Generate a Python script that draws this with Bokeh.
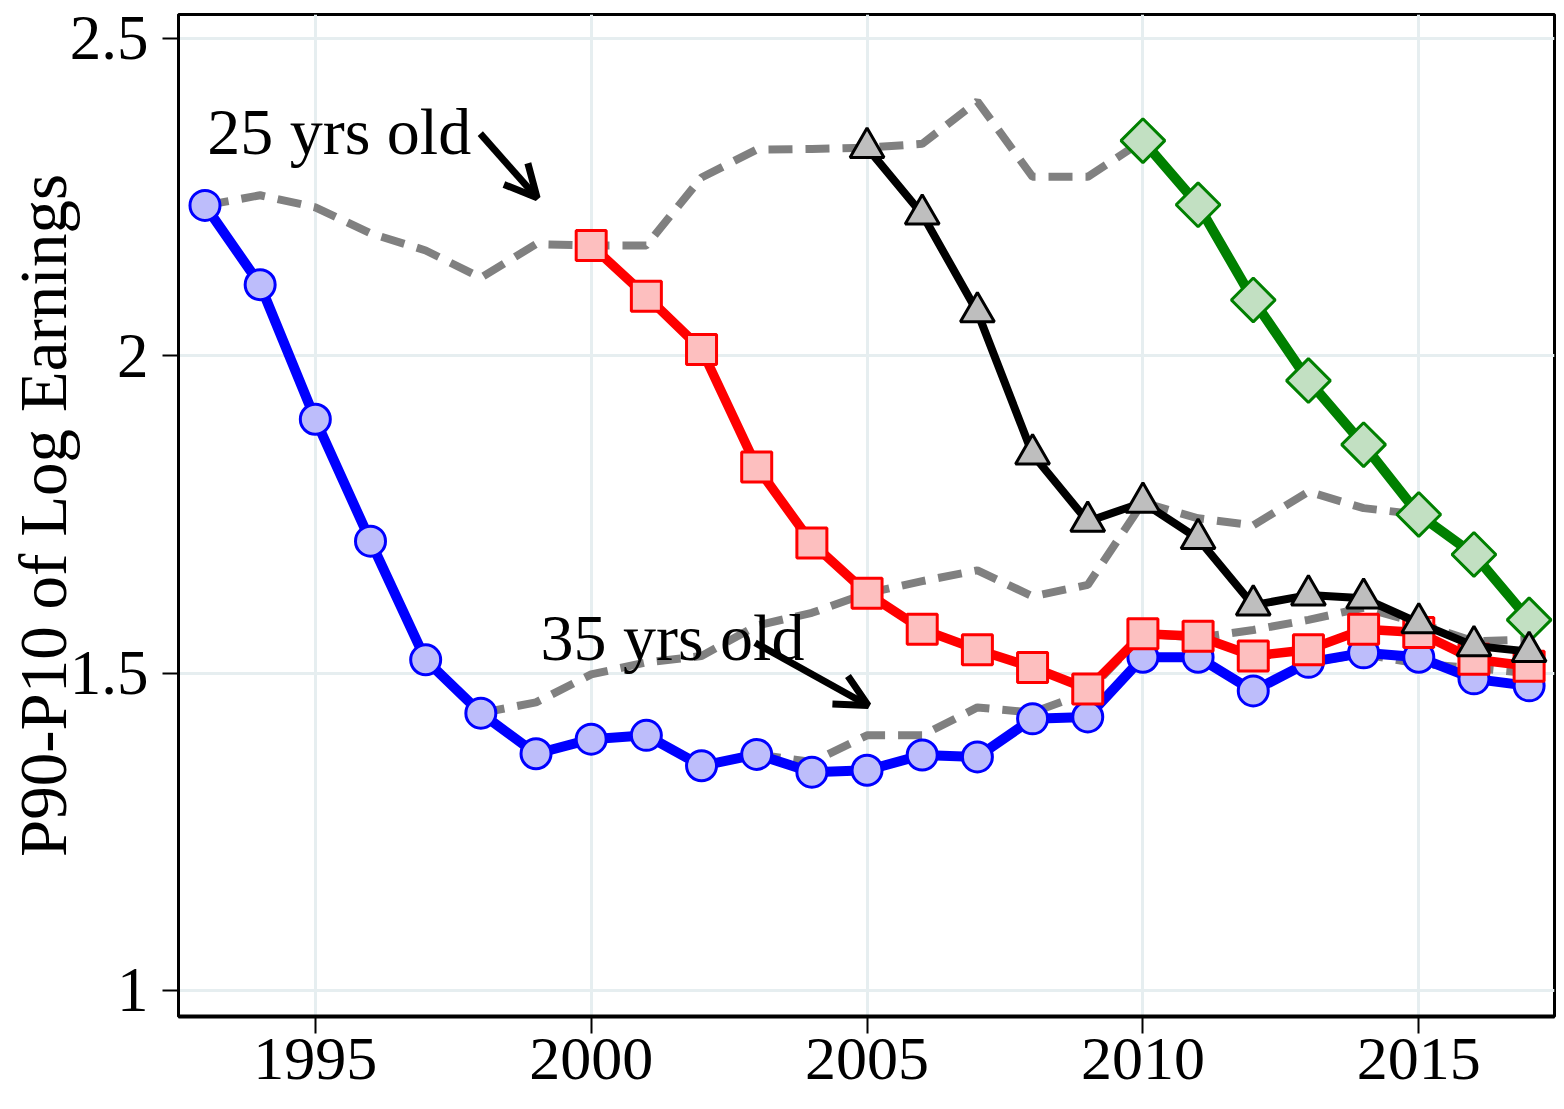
import numpy as np
from bokeh.plotting import figure
from bokeh.models import Range1d, FixedTicker, Label, Arrow, OpenHead, CustomJSTickFormatter
from bokeh.embed import file_html
from bokeh.resources import INLINE

# ---------------- data ----------------
years_blue = list(range(1993, 2018))
blue = [2.237, 2.112, 1.900, 1.708, 1.521, 1.437, 1.373, 1.396, 1.402, 1.354, 1.372,
        1.344, 1.347, 1.371, 1.368, 1.428, 1.431, 1.525, 1.525, 1.472, 1.517, 1.532,
        1.525, 1.491, 1.480]

years_red = list(range(2000, 2018))
red = [2.174, 2.094, 2.010, 1.825, 1.705, 1.626, 1.569, 1.537, 1.509, 1.475, 1.562,
       1.558, 1.527, 1.537, 1.569, 1.564, 1.522, 1.511]

years_black = list(range(2005, 2018))
black = [2.328, 2.223, 2.069, 1.845, 1.739, 1.769, 1.712, 1.607, 1.623, 1.618, 1.579,
         1.543, 1.534]

years_green = list(range(2010, 2018))
green = [2.339, 2.238, 2.088, 1.961, 1.860, 1.750, 1.687, 1.584]

years_age25 = list(range(1993, 2011))
age25 = [2.237, 2.253, 2.234, 2.193, 2.166, 2.123, 2.176, 2.174, 2.174, 2.281, 2.325,
         2.326, 2.328, 2.334, 2.401, 2.282, 2.282, 2.339]

years_age30 = list(range(1998, 2016))
age30 = [1.437, 1.454, 1.498, 1.517, 1.527, 1.575, 1.595, 1.626, 1.645, 1.662, 1.621,
         1.639, 1.769, 1.744, 1.733, 1.786, 1.760, 1.750]

years_age35 = list(range(2003, 2018))
age35 = [1.372, 1.360, 1.402, 1.402, 1.446, 1.438, 1.470, 1.562, 1.556, 1.568, 1.584,
         1.603, 1.579, 1.550, 1.553]

years_age40 = list(range(2008, 2018))
age40 = [1.428, 1.431, 1.525, 1.525, 1.472, 1.517, 1.530, 1.515, 1.508, 1.500]

x_ticks = [1995, 2000, 2005, 2010, 2015]
y_ticks = [1, 1.5, 2, 2.5]
y_title = "P90-P10 of Log Earnings"

SERIF = "Liberation Serif"

p = figure(width=1556, height=1093, output_backend="svg", toolbar_location=None,
           x_range=Range1d(1992.52, 2017.46), y_range=Range1d(0.959, 2.5378),
           min_border_left=178, min_border_right=2, min_border_top=14,
           min_border_bottom=77)
p.background_fill_color = "white"
p.border_fill_color = "white"
p.outline_line_color = "black"
p.outline_line_width = 3

# grid
p.xgrid.ticker = FixedTicker(ticks=x_ticks)
p.ygrid.ticker = FixedTicker(ticks=y_ticks)
for g in (p.xgrid, p.ygrid):
    g.grid_line_color = "#e6eef0"
    g.grid_line_width = 3

# axes
p.xaxis.ticker = FixedTicker(ticks=x_ticks)
p.yaxis.ticker = FixedTicker(ticks=y_ticks)
p.yaxis.formatter = CustomJSTickFormatter(code="return tick.toString();")
for ax in (p.xaxis, p.yaxis):
    ax.axis_line_color = "black"
    ax.major_tick_line_color = "black"
    ax.major_tick_line_width = 2
    ax.major_tick_in = 0
    ax.minor_tick_line_color = None
    ax.major_label_text_font = SERIF
    ax.major_label_text_color = "black"
p.xaxis.axis_line_width = 4
p.yaxis.axis_line_width = 3
p.xaxis.major_tick_out = 17
p.yaxis.major_tick_out = 16
p.xaxis.major_label_text_font_size = "62px"
p.xaxis.major_label_text_line_height = 0.6
p.xaxis.major_label_standoff = 5
p.yaxis.major_label_text_font_size = "63px"
p.yaxis.major_label_standoff = 14
p.yaxis.axis_label = y_title
p.yaxis.axis_label_text_font = SERIF
p.yaxis.axis_label_text_font_size = "67px"
p.yaxis.axis_label_text_font_style = "normal"
p.yaxis.axis_label_text_color = "black"
p.yaxis.axis_label_standoff = -13

# dashed age profiles
GRAY = "#808080"
for xs, ys in ((years_age25, age25), (years_age30, age30),
               (years_age35, age35), (years_age40, age40)):
    p.line(xs, ys, line_color=GRAY, line_width=8, line_dash="24 13")

# cohorts
p.line(years_green, green, line_color="#008000", line_width=10)
p.scatter(years_green, green, marker="square", angle=np.pi / 4, size=31,
          fill_color="#c2e0c2", line_color="#008000", line_width=3)

p.line(years_blue, blue, line_color="#0000ff", line_width=10)
p.scatter(years_blue, blue, marker="circle", size=30,
          fill_color="#bdbdfb", line_color="#0000ff", line_width=3)

p.line(years_red, red, line_color="#ff0000", line_width=9.5)
p.scatter(years_red, red, marker="square", size=30,
          fill_color="#fdbfbf", line_color="#ff0000", line_width=3)

p.line(years_black, black, line_color="black", line_width=8)
p.scatter(years_black, black, marker="triangle", size=34,
          fill_color="#bebebe", line_color="black", line_width=3)

# annotations
p.add_layout(Label(x=1993.04, y=2.354, text="25 yrs old", text_font=SERIF,
                   text_font_size="66px", text_color="black",
                   text_baseline="alphabetic", text_align="left"))
p.add_layout(Label(x=1999.08, y=1.556, text="35 yrs old", text_font=SERIF,
                   text_font_size="66px", text_color="black",
                   text_baseline="alphabetic", text_align="left"))
p.add_layout(Arrow(x_start=1997.99, y_start=2.350, x_end=1999.02, y_end=2.249,
                   line_width=7, line_color="black",
                   end=OpenHead(size=32, line_width=7, line_color="black")))
p.add_layout(Arrow(x_start=2002.97, y_start=1.548, x_end=2005.02, y_end=1.449,
                   line_width=7, line_color="black",
                   end=OpenHead(size=32, line_width=7, line_color="black")))

open("out.html", "w").write(file_html(p, INLINE))
